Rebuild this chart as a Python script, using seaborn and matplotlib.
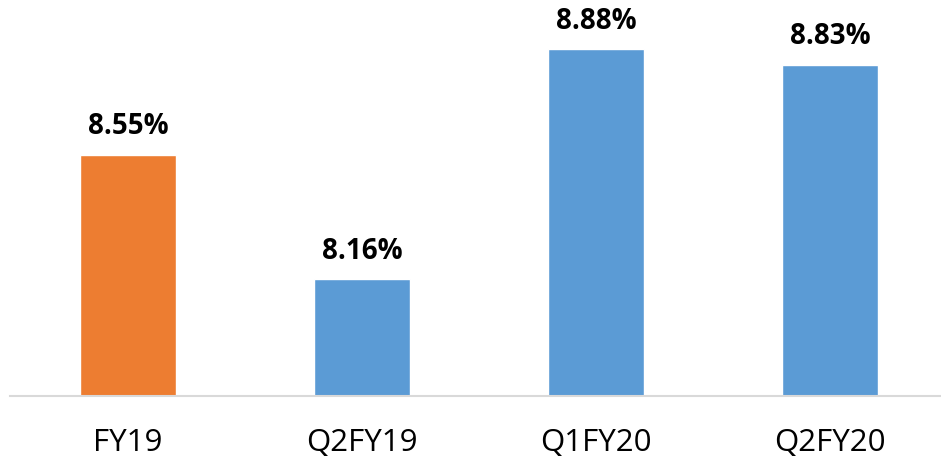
import matplotlib
matplotlib.use("Agg")
import matplotlib.pyplot as plt
import seaborn as sns
import pandas as pd

categories = ["FY19", "Q2FY19", "Q1FY20", "Q2FY20"]
values = [8.55, 8.16, 8.88, 8.83]
labels = ["8.55%", "8.16%", "8.88%", "8.83%"]
colors = ["#ED7D31", "#5B9BD5", "#5B9BD5", "#5B9BD5"]

sns.set_theme(style="white")
plt.rcParams['font.family'] = ['Open Sans', 'DejaVu Sans']

df = pd.DataFrame({"cat": categories, "val": values})

W, H = 941, 462
fig = plt.figure(figsize=(W / 100, H / 100), dpi=100)
ax = fig.add_axes([10 / W, 1 - 396 / H, 930 / W, 383 / H])

sns.barplot(data=df, x="cat", y="val", hue="cat", palette=colors, width=0.406,
            legend=False, ax=ax, saturation=1)

ax.set_ylim(7.795, 8.994)
ax.set_xlim((10 - 128) / 234, (940 - 128) / 234)

for i, (v, lab) in enumerate(zip(values, labels)):
    ax.annotate(lab, (i, v), xytext=(0, 10), textcoords="offset points",
                ha="center", va="bottom", fontsize=20, fontweight="bold", color="black",
                annotation_clip=False)

ax.set_xlabel("")
ax.set_ylabel("")
ax.set_yticks([])
ax.tick_params(axis="x", length=0, pad=23, labelsize=22.5, colors="black")
for s in ["top", "right", "left"]:
    ax.spines[s].set_visible(False)
ax.spines["bottom"].set_color("#d9d9d9")
ax.spines["bottom"].set_linewidth(1.5)

fig.savefig("out.png", dpi=100)
